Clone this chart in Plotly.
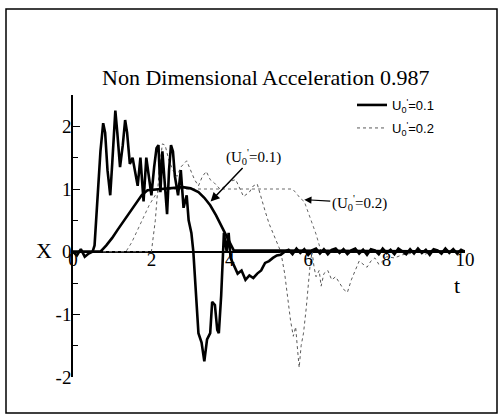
import plotly.graph_objects as go

# ---------------- data ----------------
title_text = "Non Dimensional Acceleration 0.987"
series_names = ["U<sub>0</sub><sup>'</sup>=0.1", "U<sub>0</sub><sup>'</sup>=0.2"]
x_tick_vals = [0, 2, 4, 6, 8, 10]
x_tick_text = ["0", "2", "4", "6", "8", "10"]
y_tick_vals = [-2, -1, 0, 1, 2]
y_tick_text = ["-2", "-1", "0", "1", "2"]

# displacement-like trapezoid, U0'=0.1 (thick)
disp1_t = [0, 0.7, 0.85, 1.0, 1.15, 1.3, 1.45, 1.6, 1.75, 1.9, 2.2, 2.5, 2.8, 3.0, 3.2,
           3.35, 3.5, 3.65, 3.8, 3.95, 4.1, 10]
disp1_x = [0, 0, 0.1, 0.22, 0.36, 0.5, 0.64, 0.78, 0.9, 0.98, 1.0, 1.01, 1.03, 1.01, 0.95,
           0.86, 0.74, 0.58, 0.4, 0.2, 0.02, 0]

# displacement-like trapezoid, U0'=0.2 (dotted)
disp2_t = [0, 1.35, 1.5, 1.65, 1.8, 1.95, 2.1, 2.25, 3.0, 4.0, 5.0, 5.6, 5.7, 5.8, 5.9,
           6.0, 6.1, 6.2, 6.33, 10]
disp2_x = [0, 0, 0.15, 0.35, 0.55, 0.75, 0.9, 1.0, 1.0, 1.0, 1.0, 1.0, 0.93, 0.85, 0.8,
           0.62, 0.45, 0.28, 0.0, 0]

# noisy acceleration, U0'=0.1 (thick)
acc1_t = [0, 0.1, 0.2, 0.3, 0.4, 0.5, 0.55, 0.62, 0.7, 0.77, 0.82, 0.88, 0.95, 1.0, 1.05,
          1.08, 1.13, 1.2, 1.27, 1.33, 1.38, 1.45, 1.52, 1.58, 1.65, 1.72, 1.8, 1.87,
          1.93, 2.0, 2.07, 2.13, 2.18, 2.23, 2.28, 2.33, 2.4, 2.45, 2.5, 2.55, 2.6, 2.68,
          2.75, 2.82, 2.9, 2.95, 3.02, 3.07, 3.1, 3.15, 3.2, 3.28, 3.35, 3.42, 3.5, 3.55,
          3.62, 3.68, 3.72, 3.78, 3.85, 3.92, 3.97, 4.02, 4.1, 4.2, 4.3, 4.4, 4.5, 4.6,
          4.7, 4.8, 4.9, 5.0, 5.1, 5.2, 5.3, 5.4, 5.5, 5.6, 5.7, 5.8, 5.9, 6.0, 6.1, 6.2,
          6.3, 6.4, 6.5, 6.6, 6.7, 6.8, 6.9, 7.0, 7.1, 7.2, 7.3, 7.4, 7.5, 7.6, 7.7, 7.8,
          7.9, 8.0, 8.1, 8.2, 8.3, 8.4, 8.5, 8.6, 8.7, 8.8, 8.9, 9.0, 9.1, 9.2, 9.3, 9.4,
          9.5, 9.6, 9.7, 9.8, 9.9, 10.0]
acc1_x = [0, -0.06, 0.04, -0.08, -0.03, 0.0, 0.1, 0.8, 1.6, 2.05, 1.9, 1.3, 0.9, 1.4, 2.0,
          2.25, 1.9, 1.35, 1.7, 2.1, 1.9, 1.4, 1.5, 1.3, 1.05, 1.5, 0.8, 1.5,
          1.2, 0.9, 1.35, 1.65, 1.7, 0.95, 1.6, 1.2, 0.6, 1.3, 1.7, 1.6, 1.2, 0.9,
          1.3, 0.7, 0.9, 0.5, 0.3, 0.0, -0.3, -0.9, -1.3, -1.45, -1.75, -1.4, -1.3, -0.8,
          -0.85, -1.25, -1.3, -0.7, 0.3, 0.0, 0.3, -0.1, -0.2, -0.35, -0.3, -0.45, -0.38, -0.42,
          -0.35, -0.3, -0.18, -0.15, -0.1, -0.06, -0.05, 0.0, 0.03, -0.04, 0.05, -0.02, 0.04,
          -0.05, 0.02, 0.05, -0.03, 0.04, -0.04, 0.03, 0.05, -0.02, 0.04, -0.04, 0.02, 0.05,
          -0.03, 0.03, -0.05, 0.04, 0.02, -0.04, 0.05, -0.02, 0.03, -0.04, 0.05, 0.0, -0.04,
          0.04, -0.03, 0.05, -0.02, 0.03, -0.05, 0.04, 0.02, -0.03, 0.05, -0.02, 0.04, -0.03,
          0.03, 0.0]

# noisy acceleration, U0'=0.2 (thin dotted)
acc2_t = [0, 2.0, 2.1, 2.2, 2.28, 2.35, 2.45, 2.55, 2.65, 2.75, 2.9, 3.0, 3.1, 3.2, 3.3,
          3.4, 3.5, 3.6, 3.75, 3.9, 4.0, 4.15, 4.25, 4.35, 4.5, 4.6, 4.7, 4.8, 4.9, 5.0,
          5.1, 5.2, 5.3, 5.4, 5.5, 5.55, 5.62, 5.68, 5.72, 5.77, 5.82, 5.88, 5.95, 6.0,
          6.05, 6.1, 6.15, 6.2, 6.28, 6.33, 6.4, 6.5, 6.6, 6.7, 6.8, 6.9, 7.0, 7.1, 7.2,
          7.3, 7.4, 7.5, 7.6, 7.7, 7.8, 7.9, 8.0, 8.2, 8.4, 8.6, 8.8, 9.0, 9.2, 9.4, 9.6,
          9.8, 10.0]
acc2_x = [0, 0, 0.5, 1.3, 1.72, 1.7, 1.45, 1.3, 1.2, 1.35, 1.45, 1.3, 1.15, 1.05, 1.2,
          1.28, 1.15, 1.1, 1.0, 1.05, 1.12, 1.15, 1.0, 0.88, 0.95, 1.05, 1.08, 0.85, 0.65, 0.45,
          0.3, 0.15, 0.0, -0.35, -0.85, -1.1, -1.35, -1.2, -1.5, -1.85, -1.5, -1.3, -0.9, -0.55,
          -0.2, 0.0, -0.25, -0.4, -0.3, -0.55, -0.35, -0.3, -0.45, -0.4, -0.5, -0.6, -0.65, -0.45, -0.3,
          -0.15, -0.2, -0.25, -0.15, -0.1, -0.2, -0.15, -0.08, -0.1, -0.05, -0.03, 0.02, -0.04, 0.05, -0.02, 0.04,
          0.0, 0.02]

# ---------------- figure ----------------
W, H = 502, 415
ML, MR, MT, MB = 73, 37, 95, 38
PW, PH = W - ML - MR, H - MT - MB

def px_x(p):
    return (p - ML) / PW

def px_y(p):
    return (H - MB - p) / PH

serif = "Liberation Serif"
fig = go.Figure()

fig.add_trace(go.Scatter(x=disp2_t, y=disp2_x, mode="lines", showlegend=False,
                         line=dict(color="#6a6a6a", width=1, dash="dot")))
fig.add_trace(go.Scatter(x=acc2_t, y=acc2_x, mode="lines", name=series_names[1],
                         legend="legend2",
                         line=dict(color="#5a5a5a", width=1, dash="dot")))
fig.add_trace(go.Scatter(x=disp1_t, y=disp1_x, mode="lines", showlegend=False,
                         line=dict(color="black", width=2.6)))
fig.add_trace(go.Scatter(x=acc1_t, y=acc1_x, mode="lines", name=series_names[0],
                         legend="legend",
                         line=dict(color="black", width=2.6)))

leg_font = dict(family="Liberation Sans", size=13)
fig.update_layout(
    width=W, height=H,
    margin=dict(l=ML, r=MR, t=MT, b=MB),
    paper_bgcolor="white", plot_bgcolor="white",
    font=dict(family=serif, color="black", size=18),
    showlegend=True,
    legend=dict(x=px_x(352), y=px_y(105), xanchor="left", yanchor="middle",
                bgcolor="rgba(0,0,0,0)", font=leg_font, itemwidth=30),
    legend2=dict(x=px_x(352), y=px_y(128), xanchor="left", yanchor="middle",
                 bgcolor="rgba(0,0,0,0)", font=leg_font, itemwidth=30),
    xaxis=dict(range=[0, 10], anchor="free", position=0.465, showline=False,
               showgrid=False, zeroline=False, ticks="",
               tickvals=x_tick_vals, ticktext=x_tick_text,
               tickfont=dict(family=serif, size=19)),
    yaxis=dict(range=[-2, 2.5], showline=True, linecolor="black", linewidth=1.5,
               showgrid=False, zeroline=True, zerolinecolor="black", zerolinewidth=1.5,
               ticks="inside", ticklen=7, tickwidth=1.2, tickcolor="black",
               tickvals=y_tick_vals, ticktext=y_tick_text, ticklabelstandoff=-4,
               tickfont=dict(family=serif, size=19),
               minor=dict(tickvals=[-1.5, -0.5, 0.5, 1.5, 2.5], ticks="inside",
                          ticklen=5, tickcolor="black", tickwidth=1.2)),
)

annotations = [
    dict(text=title_text, xref="paper", yref="paper", x=px_x(265), y=px_y(63),
         showarrow=False, font=dict(family=serif, size=22)),
    dict(text="X", xref="paper", yref="paper", x=px_x(44), y=px_y(250),
         xanchor="center", showarrow=False, font=dict(family=serif, size=22)),
    dict(text="t", xref="paper", yref="paper", x=px_x(462), y=px_y(300),
         showarrow=False, font=dict(family=serif, size=22)),
    dict(text="(" + series_names[0] + ")", x=3.51, y=0.8, xref="x", yref="y",
         ax=43, ay=-45, showarrow=True, arrowhead=2, arrowsize=1.2, arrowwidth=1.5,
         arrowcolor="black", font=dict(family=serif, size=15)),
    dict(text="(" + series_names[1] + ")", x=5.9, y=0.83, xref="x", yref="y",
         ax=55, ay=3, showarrow=True, arrowhead=2, arrowsize=1.2, arrowwidth=1.2,
         arrowcolor="black", font=dict(family=serif, size=15)),
]
fig.update_layout(annotations=annotations)

fig.add_shape(type="rect", xref="paper", yref="paper",
              x0=px_x(6), x1=px_x(497), y0=px_y(413), y1=px_y(9),
              line=dict(color="black", width=1.5), fillcolor="rgba(0,0,0,0)")

fig.write_html("out.html", config={"displayModeBar": False},
               post_script="document.body.style.margin='0px';")
